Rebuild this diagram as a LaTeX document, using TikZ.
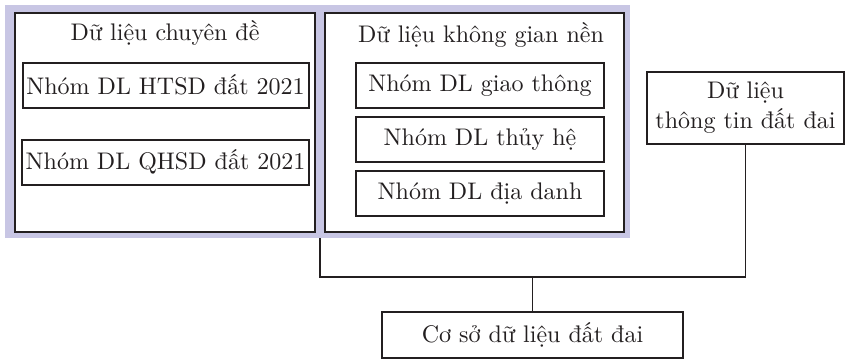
\documentclass[tikz,border=0pt]{standalone}
\usepackage{fontspec}
\setmainfont{lmroman10-regular}[Extension=.otf]
\usetikzlibrary{calc}
\definecolor{framelav}{RGB}{200,198,228}
\definecolor{ink}{RGB}{35,31,32}
\tikzset{
  every node/.style={font=\fontsize{24}{29}\selectfont, text=ink},
  box/.style={draw=ink, line width=2pt, fill=white, inner sep=0pt, minimum width=#1, align=center},
  group/.style={fill=framelav, draw=none, inner sep=0pt},
  title/.style={inner sep=0pt},
  link/.style={draw=ink, line width=1.6pt}
}
\begin{document}
\begin{tikzpicture}[x=1pt,y=-1pt]
  \useasboundingbox (0,0) rectangle (846,360);

  % lavender frame holding the two data groups
  \node[group, minimum width=625pt, minimum height=233pt] (grp) at (317.5,121.5) {};

  % thematic data group
  \node[box=300pt, minimum height=219pt] (left) at (165,122.5) {};
  \node[title] (lefttitle) at (165,33) {Dữ liệu chuyên đề};
  \node[box=286pt, minimum height=45pt] (htsd) at (165.5,85) {Nhóm DL HTSD đất 2021};
  \node[box=287pt, minimum height=45pt] (qhsd) at (165.5,162) {Nhóm DL QHSD đất 2021};

  % base spatial data group
  \node[box=299pt, minimum height=219pt] (right) at (474.5,122.5) {};
  \node[title] (righttitle) at (481,35) {Dữ liệu không gian nền};
  \node[box=248pt, minimum height=45pt] (gt) at (480,85.5) {Nhóm DL giao thông};
  \node[box=248pt, minimum height=45pt] (th) at (480,139.5) {Nhóm DL thủy hệ};
  \node[box=248pt, minimum height=45pt] (dd) at (480,193.5) {Nhóm DL địa danh};

  % land information data
  \node[box=197pt, minimum height=72pt, font=\fontsize{24}{30}\selectfont] (info) at (745.5,108) {Dữ liệu\\thông tin đất đai};

  % land database
  \node[box=301pt, minimum height=46pt] (db) at (532.5,335) {Cơ sở dữ liệu đất đai};

  % connectors
  \coordinate (gap) at ($(left.south east)!0.5!(right.south west)$);
  \coordinate (bus) at (0,277);
  \draw[link] (gap |- grp.south) -- (gap |- bus) -- (info.south |- bus) -- (info.south);
  \draw[link] (db.north) -- (db.north |- bus);
\end{tikzpicture}
\end{document}
